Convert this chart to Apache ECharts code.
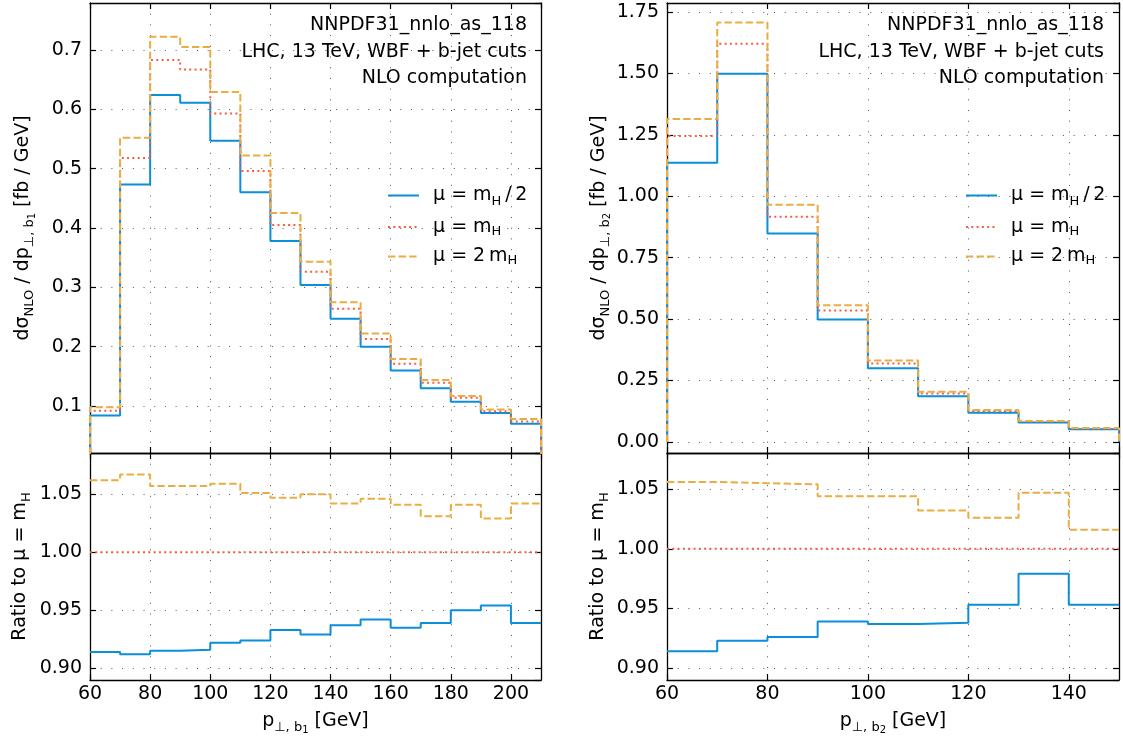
<!DOCTYPE html>
<html><head><meta charset="utf-8">
<script src="https://cdn.jsdelivr.net/npm/echarts@6/dist/echarts.min.js"></script>
<style>html,body{margin:0;padding:0;background:#fff}#c{width:1123px;height:740px}</style>
</head><body><div id="c"></div>
<script>
// ---------------- data ----------------
const seriesNames = ['μ = mH / 2', 'μ = mH', 'μ = 2 mH'];

const binEdgesB1 = [60, 70, 80, 90, 100, 110, 120, 130, 140, 150, 160, 170, 180, 190, 200, 210];
const b1HalfMH  = [0.084, 0.473, 0.624, 0.611, 0.547, 0.460, 0.378, 0.304, 0.247, 0.200, 0.160, 0.130, 0.107, 0.088, 0.070];
const b1MH      = [0.092, 0.518, 0.683, 0.667, 0.593, 0.496, 0.405, 0.326, 0.264, 0.213, 0.171, 0.139, 0.114, 0.091, 0.074];
const b1TwoMH   = [0.098, 0.552, 0.722, 0.705, 0.629, 0.522, 0.425, 0.343, 0.275, 0.222, 0.179, 0.144, 0.117, 0.094, 0.078];
const ratioB1Half    = [0.914, 0.912, 0.915, 0.916, 0.922, 0.924, 0.933, 0.929, 0.937, 0.942, 0.935, 0.939, 0.950, 0.954, 0.939];
const ratioB1Nominal = [1, 1, 1, 1, 1, 1, 1, 1, 1, 1, 1, 1, 1, 1, 1];
const ratioB1Double  = [1.062, 1.067, 1.057, 1.057, 1.059, 1.051, 1.047, 1.050, 1.042, 1.046, 1.041, 1.031, 1.041, 1.029, 1.042];

const binEdgesB2 = [60, 70, 80, 90, 100, 110, 120, 130, 140, 150];
const b2HalfMH  = [1.137, 1.499, 0.849, 0.499, 0.300, 0.186, 0.119, 0.079, 0.052];
const b2MH      = [1.246, 1.621, 0.917, 0.535, 0.319, 0.197, 0.126, 0.083, 0.054];
const b2TwoMH   = [1.315, 1.708, 0.966, 0.556, 0.332, 0.204, 0.130, 0.085, 0.057];
const ratioB2Half    = [0.914, 0.923, 0.926, 0.939, 0.937, 0.938, 0.953, 0.979, 0.953];
const ratioB2Nominal = [1, 1, 1, 1, 1, 1, 1, 1, 1];
const ratioB2Double  = [1.056, 1.055, 1.054, 1.044, 1.044, 1.032, 1.026, 1.047, 1.016];

// tick spacing / axis ranges
const xTickStep = 20;
const yTickStepB1 = 0.1, yTickStepB2 = 0.25, yTickStepRatio = 0.05;
const xRangeB1 = [60, 210], xRangeB2 = [60, 150];
const yRangeB1 = [0.0208, 0.779], yRangeB2 = [-0.045, 1.787];
const yRangeRatioB1 = [0.8899, 1.0855], yRangeRatioB2 = [0.890, 1.0803];

const annotationLines = ['NNPDF31_nnlo_as_118', 'LHC, 13 TeV, WBF + b-jet cuts', 'NLO computation'];

// ---------------- styling ----------------
const FONT = 'DejaVu Sans';
const COLORS = ['#0a8fd8', '#f85b45', '#e9ad42'];
const LINETYPES = ['solid', [2, 3.3], [7.4, 3.2]];

const rich = {
  t:  {fontFamily: FONT, fontSize: 19, lineHeight: 28, color: '#000'},
  a:  {fontFamily: FONT, fontSize: 19, lineHeight: 24, color: '#000', padding: [0, 0, 0, 9]},
  s:  {fontFamily: FONT, fontSize: 13, lineHeight: 13, color: '#000', verticalAlign: 'bottom', padding: [0, 0, 1, 0]},
  ss: {fontFamily: FONT, fontSize: 10, lineHeight: 10, color: '#000', verticalAlign: 'bottom'}
};
const legendRich = {
  'μ = mH / 2': '{a|μ = m}{s|H}{t|\u2009/\u20092}',
  'μ = mH': '{a|μ = m}{s|H}',
  'μ = 2 mH': '{a|μ = 2\u2009m}{s|H}'
};

const grids = [
  {left: 90, top: 3, width: 451, height: 450},
  {left: 90, top: 453, width: 451, height: 227},
  {left: 667, top: 3, width: 452, height: 450},
  {left: 667, top: 453, width: 452, height: 227}
];

const axisLineStyle = {show: true, onZero: false, lineStyle: {color: '#000', width: 1.3}};
const tickStyle = {show: true, inside: true, length: 6, lineStyle: {color: '#000', width: 1.2}};
const gridLineStyle = {show: true, lineStyle: {color: '#555', width: 1, type: [1, 9.7]}};
const nameStyle = {fontFamily: FONT, fontSize: 19, color: '#000', rich: rich};

function mkX(gi, range, showLabels, name) {
  const base = {type: 'value', gridIndex: gi, min: range[0], max: range[1],
    minInterval: xTickStep, maxInterval: xTickStep};
  return [
    Object.assign({}, base, {position: 'bottom', axisLine: axisLineStyle, axisTick: tickStyle,
      axisLabel: {show: showLabels, showMinLabel: true, showMaxLabel: false, margin: 5,
        color: '#000', fontFamily: FONT, fontSize: 19},
      splitLine: gridLineStyle,
      name: name || '', nameLocation: 'middle', nameGap: 27, nameTextStyle: nameStyle}),
    Object.assign({}, base, {position: 'top', axisLine: axisLineStyle, axisTick: tickStyle,
      axisLabel: {show: false}, splitLine: {show: false}})
  ];
}
function mkY(gi, range, step, decimals, name, gap) {
  const base = {type: 'value', gridIndex: gi, min: range[0], max: range[1],
    minInterval: step, maxInterval: step};
  return [
    Object.assign({}, base, {position: 'left', axisLine: axisLineStyle, axisTick: tickStyle,
      axisLabel: {show: true, showMinLabel: false, showMaxLabel: false, margin: 8,
        color: '#000', fontFamily: FONT, fontSize: 19, formatter: v => v.toFixed(decimals)},
      splitLine: gridLineStyle,
      name: name, nameLocation: 'middle', nameRotate: 90, nameGap: gap, nameTextStyle: nameStyle}),
    Object.assign({}, base, {position: 'right', axisLine: axisLineStyle, axisTick: tickStyle,
      axisLabel: {show: false}, splitLine: {show: false}})
  ];
}

const yNameB1 = '{t|dσ}{s|NLO}{t| / dp}{s|⊥, b}{ss|1}{t| [fb / GeV]}';
const yNameB2 = '{t|dσ}{s|NLO}{t| / dp}{s|⊥, b}{ss|2}{t| [fb / GeV]}';
const yNameRatio = '{t|Ratio to μ = m}{s|H}';
const xNameB1 = '{t|p}{s|⊥, b}{ss|1}{t| [GeV]}';
const xNameB2 = '{t|p}{s|⊥, b}{ss|2}{t| [GeV]}';

const xAxis = [].concat(
  mkX(0, xRangeB1, false), mkX(1, xRangeB1, true, xNameB1),
  mkX(2, xRangeB2, false), mkX(3, xRangeB2, true, xNameB2));
const yAxis = [].concat(
  mkY(0, yRangeB1, yTickStepB1, 1, yNameB1, 53),
  mkY(1, yRangeRatioB1, yTickStepRatio, 2, yNameRatio, 56),
  mkY(2, yRangeB2, yTickStepB2, 2, yNameB2, 52),
  mkY(3, yRangeRatioB2, yTickStepRatio, 2, yNameRatio, 55));

function stepData(edges, vals, baseline) {
  const d = [];
  if (baseline != null) d.push([edges[0], baseline]);
  vals.forEach((v, i) => d.push([edges[i], v]));
  d.push([edges[edges.length - 1], vals[vals.length - 1]]);
  if (baseline != null) d.push([edges[edges.length - 1], baseline]);
  return d;
}

const panels = [
  {axis: 0, edges: binEdgesB1, sets: [b1HalfMH, b1MH, b1TwoMH], base: 0},
  {axis: 2, edges: binEdgesB1, sets: [ratioB1Half, ratioB1Nominal, ratioB1Double], base: null},
  {axis: 4, edges: binEdgesB2, sets: [b2HalfMH, b2MH, b2TwoMH], base: 0},
  {axis: 6, edges: binEdgesB2, sets: [ratioB2Half, ratioB2Nominal, ratioB2Double], base: null}
];
const series = [];
panels.forEach(p => {
  p.sets.forEach((vals, k) => {
    series.push({
      type: 'line', name: seriesNames[k], xAxisIndex: p.axis, yAxisIndex: p.axis,
      step: 'end', symbol: 'none', clip: true, animation: false,
      data: stepData(p.edges, vals, p.base),
      lineStyle: {color: COLORS[k], width: 2, type: LINETYPES[k]},
      itemStyle: {color: COLORS[k]}, z: 3 + k
    });
  });
});

function mkLegend(left) {
  return {left: left, top: 186, orient: 'vertical', padding: 0, itemGap: 8,
    itemWidth: 31, itemHeight: 14, selectedMode: false, data: seriesNames,
    itemStyle: {opacity: 0, color: 'rgba(0,0,0,0)', borderWidth: 0},
    formatter: n => legendRich[n],
    textStyle: {fontFamily: FONT, fontSize: 19, color: '#000', rich: rich}};
}

const graphic = [];
[527, 1104].forEach(x => {
  annotationLines.forEach((txt, i) => {
    graphic.push({type: 'text', x: x, y: 25 + i * 26.7, z: 10,
      style: {text: txt, fontFamily: FONT, fontSize: 19, fill: '#000',
        textAlign: 'right', align: 'right', textVerticalAlign: 'middle', verticalAlign: 'middle'}});
  });
});

const chart = echarts.init(document.getElementById('c'), null, {renderer: 'canvas'});
chart.setOption({
  backgroundColor: '#fff',
  animation: false,
  grid: grids,
  xAxis: xAxis,
  yAxis: yAxis,
  legend: [mkLegend(387), mkLegend(965)],
  graphic: graphic,
  series: series
});
</script></body></html>
